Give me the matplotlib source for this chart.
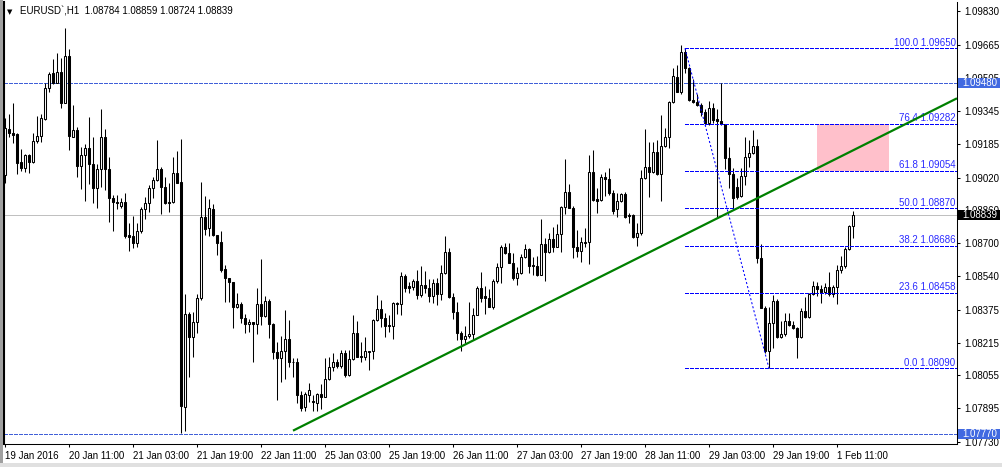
import numpy as np
import matplotlib
matplotlib.use('Agg')
import matplotlib.pyplot as plt
import matplotlib.transforms as mtransforms
from matplotlib.patches import Rectangle

# EURUSD H1 candles (19 Jan 2016 .. 1 Feb 2016)
opens = [1.09032, 1.09255, 1.09236, 1.09231, 1.09094, 1.09068, 1.09130, 1.09097, 1.09200, 1.09224,
         1.09305, 1.09458, 1.09528, 1.09479, 1.09536, 1.09385, 1.09612, 1.09219, 1.09252, 1.09078,
         1.09128, 1.09162, 1.09084, 1.08971, 1.09060, 1.09216, 1.09060, 1.08922, 1.08902, 1.08883,
         1.08902, 1.08740, 1.08735, 1.08699, 1.08759, 1.08865, 1.08897, 1.08967, 1.09008, 1.09060,
         1.08975, 1.08902, 1.08902, 1.09040, 1.08997, 1.07903, 1.08353, 1.08241, 1.08314, 1.08431,
         1.08826, 1.08772, 1.08867, 1.08740, 1.08707, 1.08572, 1.08529, 1.08509, 1.08390, 1.08403,
         1.08334, 1.08304, 1.08314, 1.08304, 1.08402, 1.08347, 1.08420, 1.08304, 1.08171, 1.08139,
         1.08176, 1.08231, 1.08122, 1.08119, 1.07960, 1.07903, 1.07960, 1.07931, 1.07922, 1.07965,
         1.07952, 1.08036, 1.08095, 1.08122, 1.08101, 1.08163, 1.08057, 1.08134, 1.08260, 1.08150,
         1.08144, 1.08171, 1.08174, 1.08325, 1.08377, 1.08334, 1.08301, 1.08298, 1.08410, 1.08402,
         1.08540, 1.08493, 1.08488, 1.08517, 1.08447, 1.08496, 1.08483, 1.08444, 1.08504, 1.08452,
         1.08553, 1.08655, 1.08439, 1.08366, 1.08264, 1.08233, 1.08248, 1.08256, 1.08350, 1.08480,
         1.08442, 1.08431, 1.08390, 1.08516, 1.08585, 1.08683, 1.08650, 1.08605, 1.08529, 1.08553,
         1.08634, 1.08670, 1.08596, 1.08590, 1.08545, 1.08696, 1.08659, 1.08720, 1.08683, 1.08745,
         1.08875, 1.08948, 1.08873, 1.08683, 1.08663, 1.08707, 1.08707, 1.09045, 1.08915, 1.08910,
         1.09021, 1.09011, 1.08946, 1.08865, 1.08906, 1.08938, 1.08837, 1.08837, 1.08732, 1.08748,
         1.09016, 1.09073, 1.09049, 1.09146, 1.09036, 1.09176, 1.09216, 1.09387, 1.09512, 1.09439,
         1.09631, 1.09556, 1.09398, 1.09387, 1.09374, 1.09341, 1.09284, 1.09357, 1.09304, 1.09297,
         1.09279, 1.09114, 1.09036, 1.08976, 1.08932, 1.09028, 1.09119, 1.09138, 1.09174, 1.08630,
         1.08386, 1.08172, 1.08313, 1.08419, 1.08245, 1.08258, 1.08323, 1.08302, 1.08285, 1.08245,
         1.08367, 1.08339, 1.08451, 1.08493, 1.08475, 1.08464, 1.08488, 1.08451, 1.08488, 1.08570,
         1.08591, 1.08672, 1.08784]
highs = [1.09309, 1.09328, 1.09382, 1.09235, 1.09157, 1.09133, 1.09133, 1.09236, 1.09322, 1.09328,
         1.09479, 1.09536, 1.09596, 1.09625, 1.09604, 1.09747, 1.09645, 1.09374, 1.09265, 1.09170,
         1.09183, 1.09317, 1.09219, 1.09086, 1.09352, 1.09255, 1.09122, 1.08935, 1.08935, 1.08919,
         1.08943, 1.08797, 1.08832, 1.08797, 1.08878, 1.08927, 1.08984, 1.09024, 1.09203, 1.09073,
         1.09024, 1.08992, 1.09122, 1.09149, 1.09208, 1.08451, 1.08363, 1.08363, 1.08451, 1.08997,
         1.08932, 1.08915, 1.08889, 1.08740, 1.08759, 1.08594, 1.08532, 1.08512, 1.08459, 1.08415,
         1.08353, 1.08330, 1.08317, 1.08483, 1.08623, 1.08444, 1.08426, 1.08309, 1.08220, 1.08247,
         1.08374, 1.08325, 1.08139, 1.08142, 1.07979, 1.07973, 1.08017, 1.07960, 1.07971, 1.08013,
         1.08139, 1.08144, 1.08163, 1.08134, 1.08179, 1.08179, 1.08179, 1.08350, 1.08322, 1.08220,
         1.08244, 1.08176, 1.08329, 1.08447, 1.08423, 1.08358, 1.08350, 1.08415, 1.08415, 1.08561,
         1.08548, 1.08509, 1.08524, 1.08568, 1.08590, 1.08566, 1.08524, 1.08524, 1.08529, 1.08594,
         1.08735, 1.08675, 1.08455, 1.08415, 1.08274, 1.08296, 1.08415, 1.08382, 1.08491, 1.08558,
         1.08493, 1.08475, 1.08524, 1.08605, 1.08691, 1.08699, 1.08699, 1.08654, 1.08582, 1.08647,
         1.08694, 1.08675, 1.08631, 1.08637, 1.08818, 1.08724, 1.08748, 1.08780, 1.08792, 1.08881,
         1.09109, 1.08987, 1.08881, 1.08764, 1.08732, 1.08772, 1.09130, 1.09154, 1.08971, 1.09036,
         1.09049, 1.09065, 1.08959, 1.08946, 1.08946, 1.08951, 1.08849, 1.08840, 1.08800, 1.09057,
         1.09255, 1.09192, 1.09192, 1.09203, 1.09325, 1.09260, 1.09395, 1.09556, 1.09569, 1.09667,
         1.09650, 1.09561, 1.09500, 1.09427, 1.09382, 1.09354, 1.09393, 1.09382, 1.09354, 1.09479,
         1.09279, 1.09171, 1.09068, 1.09016, 1.09065, 1.09220, 1.09203, 1.09252, 1.09207, 1.08695,
         1.08396, 1.08391, 1.08448, 1.08427, 1.08321, 1.08358, 1.08362, 1.08321, 1.08290, 1.08386,
         1.08439, 1.08456, 1.08516, 1.08513, 1.08497, 1.08505, 1.08558, 1.08497, 1.08594, 1.08638,
         1.08683, 1.08789, 1.08859]
lows = [1.08995, 1.09219, 1.09187, 1.09037, 1.09053, 1.09049, 1.09044, 1.09089, 1.09187, 1.09192,
        1.09300, 1.09439, 1.09474, 1.09479, 1.09361, 1.09385, 1.09154, 1.09216, 1.09024, 1.08964,
        1.08907, 1.08987, 1.08894, 1.08870, 1.08975, 1.08959, 1.08805, 1.08761, 1.08867, 1.08873,
        1.08724, 1.08663, 1.08678, 1.08683, 1.08748, 1.08816, 1.08854, 1.08919, 1.09005, 1.08842,
        1.08891, 1.08854, 1.08897, 1.08992, 1.07773, 1.07786, 1.08049, 1.08143, 1.08264, 1.08423,
        1.08740, 1.08737, 1.08735, 1.08642, 1.08561, 1.08415, 1.08415, 1.08288, 1.08382, 1.08312,
        1.08264, 1.08269, 1.08122, 1.08256, 1.08301, 1.08342, 1.08236, 1.08134, 1.07935, 1.08025,
        1.08038, 1.08098, 1.08049, 1.07919, 1.07884, 1.07884, 1.07927, 1.07884, 1.07884, 1.07890,
        1.07952, 1.08033, 1.08078, 1.08090, 1.08090, 1.08049, 1.08052, 1.08130, 1.08144, 1.08122,
        1.08130, 1.08082, 1.08134, 1.08321, 1.08293, 1.08244, 1.08269, 1.08231, 1.08355, 1.08350,
        1.08464, 1.08459, 1.08472, 1.08428, 1.08440, 1.08455, 1.08415, 1.08407, 1.08399, 1.08423,
        1.08550, 1.08434, 1.08330, 1.08228, 1.08176, 1.08212, 1.08240, 1.08228, 1.08353, 1.08415,
        1.08355, 1.08387, 1.08377, 1.08507, 1.08507, 1.08646, 1.08602, 1.08521, 1.08496, 1.08550,
        1.08626, 1.08556, 1.08545, 1.08540, 1.08545, 1.08517, 1.08654, 1.08659, 1.08683, 1.08659,
        1.08841, 1.08870, 1.08629, 1.08634, 1.08610, 1.08683, 1.08597, 1.08907, 1.08845, 1.08905,
        1.08932, 1.08935, 1.08842, 1.08829, 1.08900, 1.08824, 1.08797, 1.08724, 1.08688, 1.08740,
        1.09011, 1.08927, 1.09041, 1.09033, 1.08907, 1.09171, 1.09163, 1.09382, 1.09436, 1.09426,
        1.09531, 1.09393, 1.09382, 1.09369, 1.09322, 1.09276, 1.09276, 1.09284, 1.08824, 1.09276,
        1.09060, 1.08971, 1.08862, 1.08914, 1.08927, 1.08984, 1.09070, 1.09134, 1.08605, 1.08383,
        1.08167, 1.08090, 1.08188, 1.08240, 1.08240, 1.08248, 1.08297, 1.08280, 1.08139, 1.08240,
        1.08337, 1.08337, 1.08448, 1.08443, 1.08407, 1.08451, 1.08443, 1.08440, 1.08402, 1.08557,
        1.08581, 1.08667, 1.08724]
closes = [1.09260, 1.09236, 1.09229, 1.09092, 1.09065, 1.09130, 1.09097, 1.09200, 1.09224, 1.09309,
          1.09455, 1.09523, 1.09479, 1.09536, 1.09385, 1.09612, 1.09222, 1.09252, 1.09078, 1.09128,
          1.09162, 1.09084, 1.08971, 1.09060, 1.09216, 1.09060, 1.08922, 1.08902, 1.08897, 1.08902,
          1.08735, 1.08732, 1.08699, 1.08759, 1.08865, 1.08897, 1.08967, 1.09008, 1.09060, 1.08975,
          1.08897, 1.08897, 1.09040, 1.08995, 1.07906, 1.08353, 1.08241, 1.08314, 1.08431, 1.08826,
          1.08769, 1.08870, 1.08740, 1.08699, 1.08569, 1.08529, 1.08509, 1.08390, 1.08403, 1.08334,
          1.08304, 1.08314, 1.08304, 1.08402, 1.08347, 1.08420, 1.08304, 1.08171, 1.08139, 1.08176,
          1.08231, 1.08122, 1.08119, 1.07960, 1.07895, 1.07965, 1.07984, 1.07924, 1.07965, 1.07952,
          1.08036, 1.08095, 1.08122, 1.08101, 1.08163, 1.08057, 1.08134, 1.08260, 1.08147, 1.08144,
          1.08174, 1.08176, 1.08325, 1.08377, 1.08334, 1.08298, 1.08298, 1.08410, 1.08402, 1.08540,
          1.08483, 1.08483, 1.08517, 1.08447, 1.08496, 1.08483, 1.08444, 1.08504, 1.08452, 1.08553,
          1.08655, 1.08439, 1.08366, 1.08264, 1.08233, 1.08248, 1.08256, 1.08350, 1.08480, 1.08431,
          1.08431, 1.08390, 1.08516, 1.08585, 1.08683, 1.08650, 1.08605, 1.08529, 1.08553, 1.08634,
          1.08670, 1.08590, 1.08590, 1.08545, 1.08696, 1.08659, 1.08720, 1.08683, 1.08745, 1.08875,
          1.08948, 1.08873, 1.08683, 1.08663, 1.08704, 1.08702, 1.09045, 1.08910, 1.08907, 1.09021,
          1.09011, 1.08946, 1.08858, 1.08906, 1.08938, 1.08829, 1.08832, 1.08729, 1.08748, 1.09016,
          1.09073, 1.09049, 1.09146, 1.09036, 1.09176, 1.09216, 1.09387, 1.09515, 1.09439, 1.09631,
          1.09556, 1.09398, 1.09387, 1.09374, 1.09341, 1.09284, 1.09357, 1.09300, 1.09297, 1.09279,
          1.09114, 1.09036, 1.08922, 1.08927, 1.09028, 1.09119, 1.09138, 1.09174, 1.08630, 1.08386,
          1.08172, 1.08313, 1.08419, 1.08245, 1.08258, 1.08323, 1.08302, 1.08285, 1.08245, 1.08367,
          1.08339, 1.08451, 1.08493, 1.08475, 1.08464, 1.08488, 1.08451, 1.08488, 1.08570, 1.08591,
          1.08672, 1.08784, 1.08839]

time_ticks = [0, 16, 32, 48, 64, 80, 96, 112, 128, 144, 160, 176, 192, 208]
time_labels = ['19 Jan 2016', '20 Jan 11:00', '21 Jan 03:00', '21 Jan 19:00', '22 Jan 11:00',
               '25 Jan 03:00', '25 Jan 19:00', '26 Jan 11:00', '27 Jan 03:00', '27 Jan 19:00',
               '28 Jan 11:00', '29 Jan 03:00', '29 Jan 19:00', '1 Feb 11:00']
price_ticks = [1.09830, 1.09665, 1.09505, 1.09345, 1.09185, 1.09020, 1.08860,
               1.08700, 1.08540, 1.08375, 1.08215, 1.08055, 1.07895, 1.07730]

# fibonacci retracement (high -> low)
fib_pcts = [100.0, 76.4, 61.8, 50.0, 38.2, 23.6, 0.0]
fib_prices = [1.09650, 1.09282, 1.09054, 1.08870, 1.08686, 1.08458, 1.08090]
fib_bars = [170, 191]

# green trendline anchors (bar, price)
trend_bars = [72, 189]
trend_prices = [1.07786, 1.08928]

# pink zone
zone_bars = [202.9, 221.0]
zone_prices = [1.09054, 1.09282]

hlines = [1.09480, 1.07770]
bid = 1.08839

plt.rcParams['font.family'] = ['Liberation Sans', 'DejaVu Sans']
plt.rcParams['font.size'] = 7

W, H = 1002, 467
fig = plt.figure(figsize=(W / 100, H / 100), dpi=100)
fig.patch.set_facecolor('white')
ax = fig.add_axes([4 / W, 1 - 444 / H, (957 - 4) / W, (444 - 2) / H])
ax.set_facecolor('white')
ax.set_xlim(-0.25, 238)
ax.set_ylim(1.07721, 1.098757)

o = np.array(opens); h = np.array(highs); l = np.array(lows); c = np.array(closes)
x = np.arange(len(c))
up = c >= o

# background objects
ax.add_patch(Rectangle((zone_bars[0], zone_prices[0]), zone_bars[1] - zone_bars[0],
                       zone_prices[1] - zone_prices[0], facecolor='#ffc0cb', edgecolor='none', zorder=0.5))
ax.axhline(bid, color='#c0c0c0', lw=0.72, zorder=1, antialiased=False)
for lv in hlines:
    ax.axhline(lv, color='#4060d8', lw=0.72, ls=(0, (4, 2)), zorder=1, antialiased=False)

# candles
ax.vlines(x, l, h, colors='black', lw=0.75, zorder=3)
body_bot = np.minimum(o, c)
body_h = np.maximum(np.abs(c - o), 0.00002)
ax.bar(x, body_h, bottom=body_bot, width=0.55, color=np.where(up, 'white', 'black'),
       edgecolor='black', linewidth=0.75, zorder=4)

# fibonacci
blend = mtransforms.blended_transform_factory(ax.transAxes, ax.transData)
x_right = ax.get_xlim()[1]
for pct, lv in zip(fib_pcts, fib_prices):
    ax.plot([fib_bars[0], x_right], [lv, lv], color='#0000ff', lw=0.72, ls=(0, (4, 2)), zorder=5,
            antialiased=False)
    ax.text(0.9985, lv + 0.00003, f'{pct:.1f} {lv:.5f}', transform=blend, ha='right', va='bottom',
            color='#2a2aff', fontsize=7, zorder=6)
ax.plot(fib_bars, [fib_prices[0], fib_prices[-1]], color='#0000ff', lw=0.75, ls=(0, (2, 2)), zorder=5)

# trendline (ray to the right)
slope = (trend_prices[1] - trend_prices[0]) / (trend_bars[1] - trend_bars[0])
ax.plot([trend_bars[0], x_right], [trend_prices[0], trend_prices[0] + slope * (x_right - trend_bars[0])],
        color='#008000', lw=1.6, solid_capstyle='butt', zorder=7)

# axes
ax.spines['top'].set_visible(False)
ax.spines['left'].set_linewidth(1.5)
ax.spines['right'].set_linewidth(0.75)
ax.spines['bottom'].set_linewidth(0.75)
ax.yaxis.tick_right()
ax.set_yticks(price_ticks)
ax.set_yticklabels([f'{v:.5f}' for v in price_ticks])
ax.tick_params(axis='y', direction='out', length=2.5, width=0.75, pad=2.5, labelsize=7)
ax.set_xticks(time_ticks)
ax.set_xticklabels(time_labels)
for lab in ax.get_xticklabels():
    lab.set_ha('left')
ax.tick_params(axis='x', direction='out', length=2.5, width=0.75, pad=2.5, labelsize=7)

# price boxes on the right scale (they cover the scale labels beneath, as in the terminal)
fblend = mtransforms.blended_transform_factory(fig.transFigure, ax.transData)
for lv, col in [(hlines[0], '#4169e1'), (bid, 'black'), (hlines[1], '#4169e1')]:
    ax.add_patch(Rectangle((958 / W, lv - 0.00025), 42 / W, 0.0005, transform=fblend,
                           facecolor=col, edgecolor='none', clip_on=False, zorder=10))
    ax.text(962 / W, lv, f'{lv:.5f}', transform=fblend, ha='left', va='center',
            color='white', fontsize=7, clip_on=False, zorder=11)

# header
fig.text(7 / W, 1 - 12 / H, '▼', fontsize=5, va='center', ha='left', family=['DejaVu Sans'])
fig.text(20 / W, 1 - 12 / H, 'EURUSD`,H1  1.08784 1.08859 1.08724 1.08839', fontsize=7,
         va='center', ha='left')

# window frame
fig.patches.append(Rectangle((0, 0), 3 / W, 1, transform=fig.transFigure, facecolor='#a0a0a0',
                             edgecolor='none', zorder=0))
fig.patches.append(Rectangle((0, 0), 1, 4 / H, transform=fig.transFigure, facecolor='#e0e0e0',
                             edgecolor='none', zorder=0))

fig.savefig('out.png', dpi=100)
